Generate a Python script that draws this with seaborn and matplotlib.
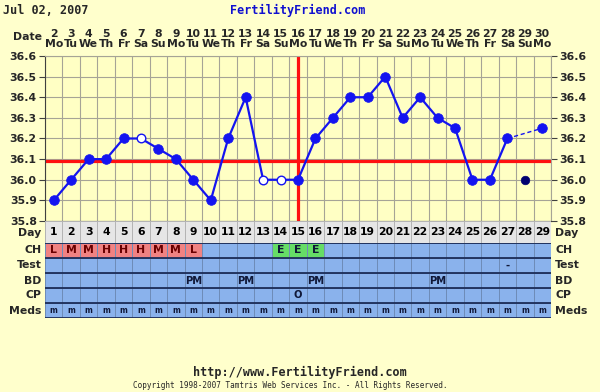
import matplotlib
matplotlib.use("Agg")
import matplotlib.pyplot as plt
from matplotlib.colors import ListedColormap
import numpy as np
import pandas as pd
import seaborn as sns

# cycle data
days = list(range(1, 30))
dates = [str(d) for d in range(2, 31)]
weekdays = ["Mo", "Tu", "We", "Th", "Fr", "Sa", "Su"] * 4 + ["Mo"]
temps = [35.90, 36.00, 36.10, 36.10, 36.20, 36.20, 36.15, 36.10, 36.00, 35.90,
         36.20, 36.40, 36.00, 36.00, 36.00, 36.20, 36.30, 36.40, 36.40, 36.50,
         36.30, 36.40, 36.30, 36.25, 36.00, 36.00, 36.20, 36.00, 36.25]
open_days = [6, 13, 14]
discarded_days = [28]
coverline = 36.09
ovulation_day = 15

row_names = ["CH", "Test", "BD", "CP", "Meds"]
cm_row = ["L", "M", "M", "H", "H", "H", "M", "M", "L", "", "", "", "", "E", "E", "E"] + [""] * 13
test_row = [""] * 26 + ["-", "", ""]
bd_row = [""] * 29
for d in (9, 12, 16, 23):
    bd_row[d - 1] = "PM"
cp_row = [""] * 29
cp_row[ovulation_day - 1] = "O"
meds_row = ["m"] * 29

BG = "#ffffcc"
PLOT_BG = "#ffffc4"
BLUE = "#1414f0"
NAVY = "#000070"
RED = "#ff1010"
CELL_BLUE = "#8ab2ec"
CELL_SALMON = "#f08282"
CELL_GREEN = "#66dd66"
DAY_GRAY = "#e6e6e6"
GRID = "#a6a496"
FS = 7.8

sns.set_style("white")
plt.rcParams["font.family"] = ["DejaVu Sans"]
plt.rcParams["font.weight"] = "bold"

fig = plt.figure(figsize=(6, 3.92), dpi=100, facecolor=BG)
W, H = 600.0, 392.0
left, width = 45 / W, 506 / W
ax = fig.add_axes([left, 1 - 221 / H, width, 165 / H])
ax_day = fig.add_axes([left, 1 - 243 / H, width, 22 / H])
ax_tab = fig.add_axes([left, 1 - 318 / H, width, 75 / H])

# ---- temperature chart
df = pd.DataFrame({"day": days, "temp": temps})
df["kind"] = "filled"
df.loc[df.day.isin(open_days), "kind"] = "open"
df.loc[df.day.isin(discarded_days), "kind"] = "discarded"

ax.set_facecolor(PLOT_BG)
ax.axhline(coverline, color=RED, lw=2.3, zorder=2)
ax.axvline(ovulation_day, color=RED, lw=2.3, zorder=2)

connected = df[df.day <= 27]
sns.lineplot(data=connected, x="day", y="temp", color=BLUE, lw=1.6, sort=False,
             estimator=None, ax=ax, zorder=3)
tail = df[df.day.isin([27, 29])]
sns.lineplot(data=tail, x="day", y="temp", color=BLUE, lw=1.0, ax=ax,
             estimator=None, linestyle=(0, (3, 2)), zorder=3)
sns.scatterplot(data=df[df.kind == "filled"], x="day", y="temp", color=BLUE,
                edgecolor=BLUE, s=48, ax=ax, zorder=4)
sns.scatterplot(data=df[df.kind == "open"], x="day", y="temp", color="white",
                edgecolor=BLUE, linewidth=1.0, s=38, ax=ax, zorder=4)
sns.scatterplot(data=df[df.kind == "discarded"], x="day", y="temp", color=NAVY,
                edgecolor=NAVY, s=38, ax=ax, zorder=4)

ax.set_xlim(0.5, 29.5)
ax.set_ylim(35.8, 36.6)
ax.set_xticks(days)
ax.set_xticklabels([f"{d}\n{w}" for d, w in zip(dates, weekdays)],
                   fontsize=FS, fontweight="bold", linespacing=1.0)
ax.set_xticks(np.arange(0.5, 30, 1), minor=True)
ax.xaxis.tick_top()
ax.tick_params(axis="x", which="both", length=0, pad=5)
yt = np.round(np.arange(35.8, 36.61, 0.1), 1)
ax.set_yticks(yt)
ax.set_yticklabels([f"{v:.1f}" for v in yt], fontsize=FS, fontweight="bold")
ax.tick_params(axis="y", left=True, right=True, labelleft=True, labelright=True,
               length=4, width=0.8, color="#404040", pad=2)
ax.grid(which="minor", axis="x", color=GRID, lw=0.8)
ax.grid(which="major", axis="y", color=GRID, lw=0.8)
ax.set_axisbelow(True)
ax.set_xlabel("")
ax.set_ylabel("")
for side in ("left", "bottom"):
    ax.spines[side].set_color("#404040")
for side in ("top", "right"):
    ax.spines[side].set_color(GRID)
ax.text(-3 / 506, 1 + 19 / 165, "Date", transform=ax.transAxes, ha="right",
        va="center", fontsize=FS, fontweight="bold")

# ---- day row
sns.heatmap(np.zeros((1, 29)), annot=np.array([days]), fmt="d",
            cmap=ListedColormap([DAY_GRAY]), cbar=False, linewidths=0.6,
            linecolor="#b4b4b4", xticklabels=False, yticklabels=False, ax=ax_day,
            annot_kws=dict(fontsize=FS, fontweight="bold", color="black"))
ax_day.text(-0.2, 0.55, "Day", ha="right", va="center", fontsize=FS, fontweight="bold")
ax_day.text(29.25, 0.55, "Day", ha="left", va="center", fontsize=FS, fontweight="bold")

# ---- observation rows
rows = [cm_row, test_row, bd_row, cp_row, meds_row]
labels = np.array(rows)
codes = np.zeros(labels.shape)
for j, v in enumerate(cm_row):
    if v in ("L", "M", "H"):
        codes[0, j] = 1
    elif v == "E":
        codes[0, j] = 2
sns.heatmap(codes, annot=labels, fmt="", vmin=-0.5, vmax=2.5,
            cmap=ListedColormap([CELL_BLUE, CELL_SALMON, CELL_GREEN]), cbar=False,
            linewidths=0.6, linecolor="#6e8cb8", xticklabels=False, yticklabels=False,
            ax=ax_tab, annot_kws=dict(fontsize=7.2, fontweight="bold", color="#101838"))
for t in ax_tab.texts:
    if t.get_text() in ("L", "M", "H"):
        t.set_color("#6a0000")
        t.set_fontsize(7.8)
    elif t.get_text() == "E":
        t.set_fontsize(7.8)
    elif t.get_text() == "m":
        t.set_fontsize(5.5)
for y in range(0, 6):
    ax_tab.axhline(y, color="#1c2c58", lw=1.3)
for i, name in enumerate(row_names):
    ax_tab.text(-0.2, i + 0.5, name, ha="right", va="center", fontsize=FS, fontweight="bold")
    ax_tab.text(29.25, i + 0.5, name, ha="left", va="center", fontsize=FS, fontweight="bold")

# ---- header / footer
fig.text(3 / W, 1 - 10 / H, "Jul 02, 2007", ha="left", va="center", fontsize=8.5,
         fontweight="bold", family="DejaVu Sans Mono")
fig.text(298 / W, 1 - 10 / H, "FertilityFriend.com", ha="center", va="center",
         fontsize=8.5, fontweight="bold", color="#1010d0", family="DejaVu Sans Mono")
fig.text(300 / W, 1 - 372 / H, "http://www.FertilityFriend.com", ha="center",
         va="center", fontsize=8.5, fontweight="bold", family="DejaVu Sans Mono")
fig.text(290 / W, 1 - 385 / H,
         "Copyright 1998-2007 Tamtris Web Services Inc. - All Rights Reserved.",
         ha="center", va="center", fontsize=5.5, fontweight="normal",
         family="DejaVu Sans Mono")

fig.savefig("out.png", dpi=100, facecolor=BG)
